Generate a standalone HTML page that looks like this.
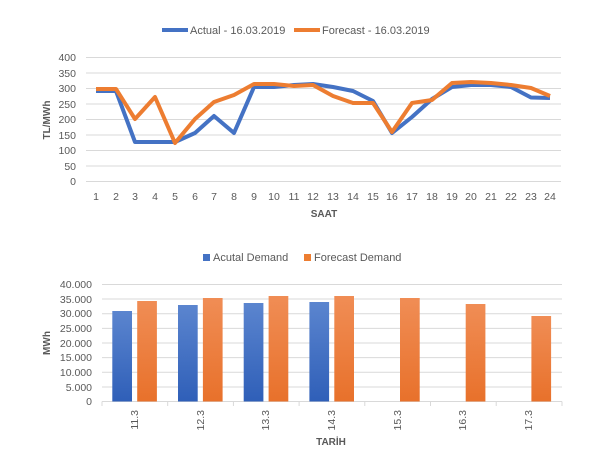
<!DOCTYPE html>
<html><head><meta charset="utf-8"><style>
body{margin:0;background:#fff;width:610px;height:462px;overflow:hidden}
svg text{font-family:"Liberation Sans",sans-serif;fill:#595959}
</style></head><body>
<svg width="610" height="462" viewBox="0 0 610 462" xmlns="http://www.w3.org/2000/svg">
<defs>
<linearGradient id="gb" x1="0" y1="0" x2="0" y2="1"><stop offset="0" stop-color="#5b85cf"/><stop offset="1" stop-color="#2f5fb8"/></linearGradient>
<linearGradient id="go" x1="0" y1="0" x2="0" y2="1"><stop offset="0" stop-color="#f08d55"/><stop offset="1" stop-color="#e8712b"/></linearGradient>
</defs>
<!-- Top legend -->
<line x1="162" y1="30" x2="188" y2="30" stroke="#4472c4" stroke-width="4"/>
<text x="190" y="34" font-size="11">Actual - 16.03.2019</text>
<line x1="294" y1="30" x2="320" y2="30" stroke="#ed7d31" stroke-width="4"/>
<text x="322" y="34" font-size="11">Forecast - 16.03.2019</text>
<!-- Top grid -->
<g stroke="#d9d9d9" stroke-width="1">
<line x1="86" x2="561" y1="57.5" y2="57.5"/><line x1="86" x2="561" y1="73" y2="73"/><line x1="86" x2="561" y1="88.5" y2="88.5"/><line x1="86" x2="561" y1="104" y2="104"/><line x1="86" x2="561" y1="119.5" y2="119.5"/><line x1="86" x2="561" y1="135" y2="135"/><line x1="86" x2="561" y1="150.5" y2="150.5"/><line x1="86" x2="561" y1="166" y2="166"/><line x1="86" x2="561" y1="181.5" y2="181.5"/>
</g>
<g font-size="10.5" text-anchor="end">
<text x="76" y="61">400</text><text x="76" y="77">350</text><text x="76" y="92">300</text><text x="76" y="108">250</text><text x="76" y="123">200</text><text x="76" y="139">150</text><text x="76" y="154">100</text><text x="76" y="170">50</text><text x="76" y="185">0</text>
</g>
<g font-size="10.5" text-anchor="middle">
<text x="96" y="200">1</text><text x="116" y="200">2</text><text x="135" y="200">3</text><text x="155" y="200">4</text><text x="175" y="200">5</text><text x="195" y="200">6</text><text x="214" y="200">7</text><text x="234" y="200">8</text><text x="254" y="200">9</text><text x="274" y="200">10</text><text x="294" y="200">11</text><text x="313" y="200">12</text><text x="333" y="200">13</text><text x="353" y="200">14</text><text x="373" y="200">15</text><text x="392" y="200">16</text><text x="412" y="200">17</text><text x="432" y="200">18</text><text x="452" y="200">19</text><text x="471" y="200">20</text><text x="491" y="200">21</text><text x="511" y="200">22</text><text x="531" y="200">23</text><text x="550" y="200">24</text>
</g>
<text x="324" y="217" font-size="10" font-weight="bold" text-anchor="middle">SAAT</text>
<text transform="translate(50,120) rotate(-90)" font-size="10" font-weight="bold" text-anchor="middle">TL/MWh</text>
<polyline fill="none" stroke="#4472c4" stroke-width="4" stroke-linejoin="round" points="96,91 116,91 135,142 155,142 175,142 195,133 214,116 234,133 254,87 274,87 294,85 313,84 333,87 353,91 373,101 392,133 412,117 432,99 452,87 471,85 491,85 511,87 531,97.5 550,98"/>
<polyline fill="none" stroke="#ed7d31" stroke-width="4" stroke-linejoin="round" points="96,89 116,89 135,119 155,97 175,143 195,119 214,102 234,95 254,84 274,84 294,86 313,85 333,96 353,103 373,103 392,132 412,103 432,100 452,83 471,82 491,83 511,85 531,88 550,96"/>
<!-- Bottom legend -->
<rect x="203" y="254" width="7" height="7" fill="#4472c4"/>
<text x="213" y="261" font-size="11">Acutal Demand</text>
<rect x="304" y="254" width="7" height="7" fill="#ed7d31"/>
<text x="314" y="261" font-size="11">Forecast Demand</text>
<g stroke="#d9d9d9" stroke-width="1">
<line x1="102" x2="562" y1="284.5" y2="284.5"/><line x1="102" x2="562" y1="299" y2="299"/><line x1="102" x2="562" y1="313.7" y2="313.7"/><line x1="102" x2="562" y1="328.4" y2="328.4"/><line x1="102" x2="562" y1="343" y2="343"/><line x1="102" x2="562" y1="357.6" y2="357.6"/><line x1="102" x2="562" y1="372.3" y2="372.3"/><line x1="102" x2="562" y1="387" y2="387"/>
<line x1="102" x2="562" y1="401.5" y2="401.5"/>
<line x1="102" x2="102" y1="401.5" y2="406"/><line x1="167.7" x2="167.7" y1="401.5" y2="406"/><line x1="233.4" x2="233.4" y1="401.5" y2="406"/><line x1="299.1" x2="299.1" y1="401.5" y2="406"/><line x1="364.8" x2="364.8" y1="401.5" y2="406"/><line x1="430.5" x2="430.5" y1="401.5" y2="406"/><line x1="496.2" x2="496.2" y1="401.5" y2="406"/><line x1="562" x2="562" y1="401.5" y2="406"/>
</g>
<g font-size="10.5" text-anchor="end">
<text x="92" y="288">40.000</text><text x="92" y="303">35.000</text><text x="92" y="317">30.000</text><text x="92" y="332">25.000</text><text x="92" y="347">20.000</text><text x="92" y="361">15.000</text><text x="92" y="376">10.000</text><text x="92" y="391">5.000</text><text x="92" y="405">0</text>
</g>
<text transform="translate(50,343) rotate(-90)" font-size="10" font-weight="bold" text-anchor="middle">MWh</text>
<g>
<rect x="112.3" y="311" width="19.7" height="90.5" fill="url(#gb)"/><rect x="137.2" y="301" width="19.7" height="100.5" fill="url(#go)"/>
<rect x="178" y="305" width="19.7" height="96.5" fill="url(#gb)"/><rect x="202.9" y="298" width="19.7" height="103.5" fill="url(#go)"/>
<rect x="243.7" y="303" width="19.7" height="98.5" fill="url(#gb)"/><rect x="268.6" y="296" width="19.7" height="105.5" fill="url(#go)"/>
<rect x="309.4" y="302" width="19.7" height="99.5" fill="url(#gb)"/><rect x="334.3" y="296" width="19.7" height="105.5" fill="url(#go)"/>
<rect x="400" y="298" width="19.7" height="103.5" fill="url(#go)"/>
<rect x="465.7" y="304" width="19.7" height="97.5" fill="url(#go)"/>
<rect x="531.4" y="316" width="19.7" height="85.5" fill="url(#go)"/>
</g>
<g font-size="10.5" text-anchor="end">
<text transform="translate(138,410) rotate(-90)">11.3</text>
<text transform="translate(204,410) rotate(-90)">12.3</text>
<text transform="translate(269,410) rotate(-90)">13.3</text>
<text transform="translate(335,410) rotate(-90)">14.3</text>
<text transform="translate(401,410) rotate(-90)">15.3</text>
<text transform="translate(466,410) rotate(-90)">16.3</text>
<text transform="translate(532,410) rotate(-90)">17.3</text>
</g>
<text x="331" y="445" font-size="10" font-weight="bold" text-anchor="middle">TARİH</text>
</svg>
</body></html>
